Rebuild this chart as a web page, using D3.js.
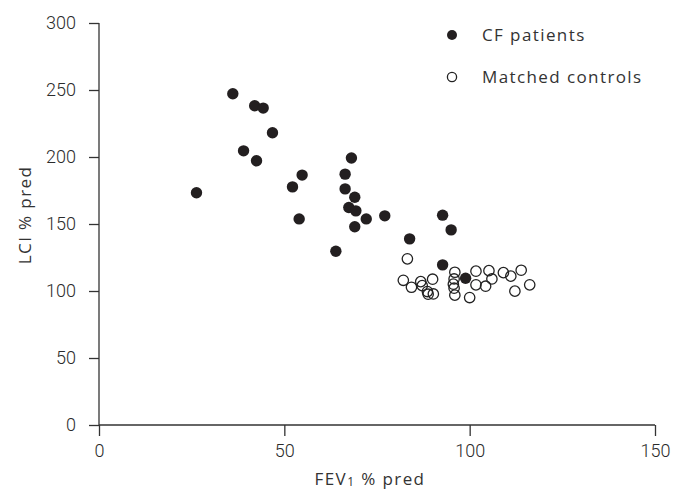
<!DOCTYPE html>
<html>
<head>
<meta charset="utf-8">
<script src="https://cdn.jsdelivr.net/npm/d3@7"></script>
<style>
  body { margin: 0; background: #fff; }
  text { font-family: Roboto, "Liberation Sans", sans-serif; font-weight: 300; fill: #2b2b2b; }
  .ttl { font-family: "Open Sans", Roboto, sans-serif; font-size: 17px; letter-spacing: 1.4px; font-weight: 400; fill: #333; }
</style>
</head>
<body>
<div id="chart"></div>
<script>
// CF patients: [FEV1 % pred, LCI % pred]
var cfFev1 = [36.1, 42.0, 44.3, 46.8, 39.0, 42.5, 26.3, 54.8, 52.2, 54.0,
              68.1, 66.4, 66.4, 69.0, 67.4, 69.3, 72.1, 77.1, 69.0, 63.9,
              92.7, 95.0, 83.8, 92.7, 98.9];
var cfLci = [247.2, 238.2, 236.5, 218.1, 204.6, 197.2, 173.3, 186.5, 177.7, 153.8,
             199.2, 187.2, 176.2, 170.0, 162.3, 159.8, 153.8, 156.1, 147.9, 129.7,
             156.6, 145.6, 138.9, 119.5, 109.5];

// Matched controls
var ctrlFev1 = [83.2, 82.1, 84.3, 86.8, 87.2, 88.6, 90.2, 88.8, 90.0, 96.0,
                95.8, 95.6, 95.8, 96.0, 100.0, 101.7, 101.7, 104.3, 105.2, 106.0,
                109.1, 111.1, 113.9, 112.2, 116.2];
var ctrlLci = [124.0, 108.0, 102.8, 107.0, 104.0, 99.6, 97.8, 97.6, 108.8, 114.0,
               109.0, 105.1, 102.1, 96.9, 95.1, 114.8, 104.6, 103.6, 115.2, 109.0,
               113.7, 111.1, 115.5, 99.9, 104.6];

var xTicks = [0, 50, 100, 150];
var yTicks = [0, 50, 100, 150, 200, 250, 300];

var W = 684, H = 490;
var m = {l: 99, r: 29, t: 23, b: 65};

var svg = d3.select("#chart").append("svg").attr("width", W).attr("height", H);

var x = d3.scaleLinear().domain([0, 150]).range([m.l, W - m.r]);
var y = d3.scaleLinear().domain([0, 300]).range([H - m.b, m.t]);

var xAxis = svg.append("g").attr("transform", "translate(0," + (H - m.b) + ")")
    .call(d3.axisBottom(x).tickValues(xTicks).tickSize(11).tickPadding(8));
var yAxis = svg.append("g").attr("transform", "translate(" + m.l + ",0)")
    .call(d3.axisLeft(y).tickValues(yTicks).tickSize(10).tickPadding(13));

[xAxis, yAxis].forEach(function (g) {
    g.selectAll("path, line").attr("stroke", "#333").attr("stroke-width", 1.3);
    g.selectAll("text").style("font-size", "18px").style("fill", "#2b2b2b")
        .style("font-family", "Roboto, sans-serif").style("font-weight", 300);
});
yAxis.select(".domain").attr("d", "M0," + y(300) + "V" + y(0));
xAxis.select(".domain").attr("d", "M" + x(0) + ",0H" + x(150));

// axis titles
var xt = svg.append("text").attr("class", "ttl").attr("x", 370).attr("y", 485)
    .attr("text-anchor", "middle");
xt.append("tspan").text("FEV");
xt.append("tspan").text("1").style("font-size", "12px").attr("dy", 1);
xt.append("tspan").text(" % pred").attr("dy", -1);

svg.append("text").attr("class", "ttl").attr("transform", "translate(31,215) rotate(-90)")
    .attr("text-anchor", "middle").text("LCI % pred");

// points
var cf = cfFev1.map(function (v, i) { return {x: v, y: cfLci[i]}; });
var ctrl = ctrlFev1.map(function (v, i) { return {x: v, y: ctrlLci[i]}; });

svg.append("g").selectAll("circle").data(ctrl).enter().append("circle")
    .attr("cx", function (d) { return x(d.x); })
    .attr("cy", function (d) { return y(d.y); })
    .attr("r", 5.2)
    .attr("fill", "none")
    .attr("stroke", "#222").attr("stroke-width", 1.3);

svg.append("g").selectAll("circle").data(cf).enter().append("circle")
    .attr("cx", function (d) { return x(d.x); })
    .attr("cy", function (d) { return y(d.y); })
    .attr("r", 5.7)
    .attr("fill", "#231f20");

// legend
var legend = [
    {label: "CF patients", filled: true, y: 35},
    {label: "Matched controls", filled: false, y: 77}
];
var lg = svg.append("g").selectAll("g").data(legend).enter().append("g");
lg.append("circle").attr("cx", 452).attr("cy", function (d) { return d.y; })
    .attr("r", function (d) { return d.filled ? 5 : 4.6; })
    .attr("fill", function (d) { return d.filled ? "#231f20" : "none"; })
    .attr("stroke", function (d) { return d.filled ? "none" : "#222"; })
    .attr("stroke-width", 1.3);
lg.append("text").attr("class", "ttl").attr("x", 482).attr("y", function (d) { return d.y + 6; })
    .text(function (d) { return d.label; });
</script>
</body>
</html>
